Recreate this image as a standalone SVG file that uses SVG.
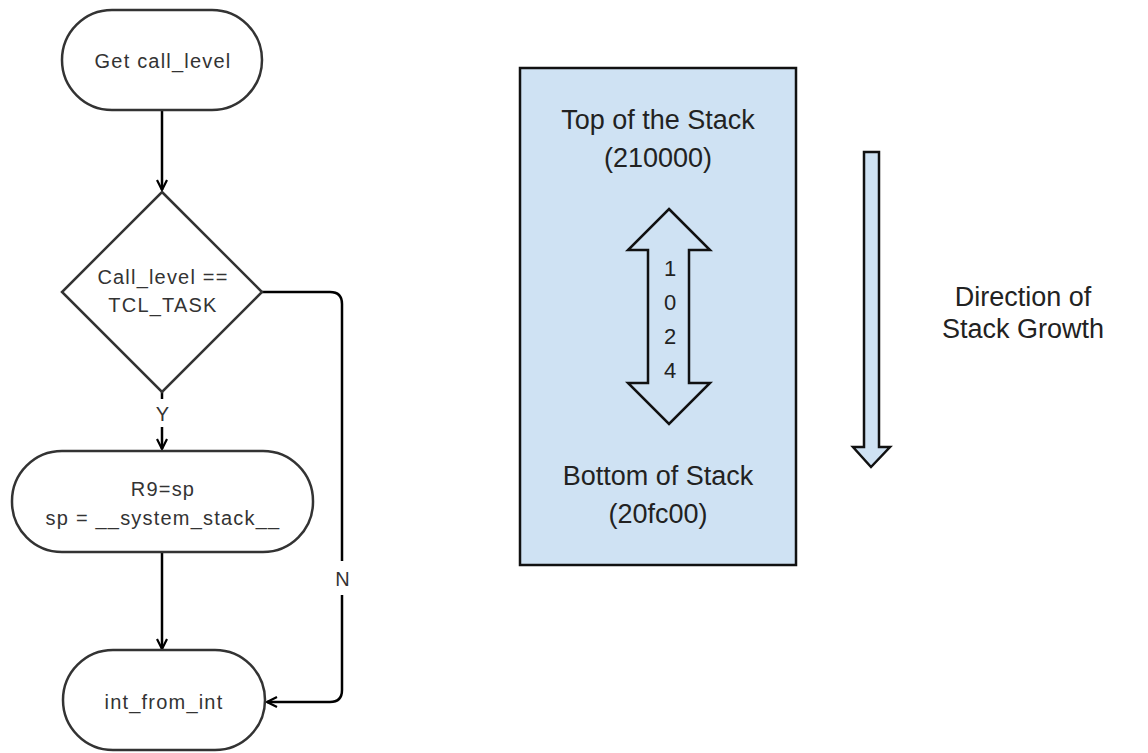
<svg xmlns="http://www.w3.org/2000/svg" width="1148" height="753" viewBox="0 0 1148 753">
  <defs>
    <style>
      .shape { fill: #ffffff; stroke: #333333; stroke-width: 2.5; }
      .lbl { font-family: "Liberation Sans", Arial, sans-serif; font-size: 20px; fill: #333333; text-anchor: middle; letter-spacing: 1.2px; }
      .big { font-family: "Liberation Sans", Arial, sans-serif; font-size: 27px; fill: #222222; text-anchor: middle; }
      .edge { fill: none; stroke: #000000; stroke-width: 2.5; }
      .stack { fill: #cfe2f3; stroke: #111111; stroke-width: 2.5; }
      .outline { fill: none; stroke: #111111; stroke-width: 2.5; stroke-linejoin: miter; }
    </style>
    <marker id="open" viewBox="0 0 12 12" refX="11" refY="6" markerWidth="12" markerHeight="12" markerUnits="userSpaceOnUse" orient="auto">
      <path d="M1,1 L11,6 L1,11" fill="none" stroke="#000000" stroke-width="2.2"/>
    </marker>
  </defs>

  <rect width="1148" height="753" fill="#ffffff"/>

  <!-- flowchart connectors -->
  <g id="connectors">
    <line class="edge" x1="162" y1="110" x2="162" y2="190" marker-end="url(#open)"/>
    <line class="edge" x1="162" y1="392" x2="162" y2="449" marker-end="url(#open)"/>
    <line class="edge" x1="162" y1="552" x2="162" y2="649" marker-end="url(#open)"/>
    <path class="edge" d="M262,292 H330 Q342,292 342,304 V690 Q342,702 330,702 H267" marker-end="url(#open)"/>
    <rect x="151" y="399" width="22" height="28" fill="#ffffff"/>
    <text class="lbl" x="163" y="421">Y</text>
    <rect x="330" y="561" width="24" height="34" fill="#ffffff"/>
    <text class="lbl" x="343" y="586">N</text>
  </g>

  <g id="get-call-level">
    <rect class="shape" x="62" y="10" width="200" height="100" rx="50" ry="50"/>
    <text class="lbl" x="163" y="68">Get call_level</text>
  </g>

  <g id="decision">
    <polygon class="shape" points="162,192 262,292 162,392 62,292"/>
    <text class="lbl" x="163" y="284">Call_level ==</text>
    <text class="lbl" x="163" y="312">TCL_TASK</text>
  </g>

  <g id="switch-stack">
    <rect class="shape" x="12" y="451" width="301" height="101" rx="50" ry="50"/>
    <text class="lbl" x="163" y="496">R9=sp</text>
    <text class="lbl" x="163" y="525">sp = __system_stack__</text>
  </g>

  <g id="int-from-int">
    <rect class="shape" x="63" y="650" width="202" height="100" rx="50" ry="50"/>
    <text class="lbl" x="164" y="709">int_from_int</text>
  </g>

  <!-- stack memory block -->
  <g id="stack">
    <rect class="stack" x="520" y="68" width="276" height="497"/>
    <text class="big" x="658" y="129">Top of the Stack</text>
    <text class="big" x="658" y="167">(210000)</text>
    <text class="big" x="658" y="485">Bottom of Stack</text>
    <text class="big" x="658" y="523">(20fc00)</text>
  </g>

  <g id="stack-size">
    <polygon class="outline" points="669,209 710,250 689,250 689,383 710,383 669,424 628,383 648,383 648,250 628,250"/>
    <g font-family="Liberation Sans, Arial, sans-serif" font-size="22" fill="#222222" text-anchor="middle">
      <text x="670" y="276">1</text>
      <text x="670" y="310">0</text>
      <text x="670" y="344">2</text>
      <text x="670" y="378">4</text>
    </g>
  </g>

  <g id="growth">
    <polygon class="stack" points="864,152 879,152 879,447 890,447 871,467 853,447 864,447"/>
    <text class="big" x="1023" y="306">Direction of</text>
    <text class="big" x="1023" y="338">Stack Growth</text>
  </g>
</svg>
